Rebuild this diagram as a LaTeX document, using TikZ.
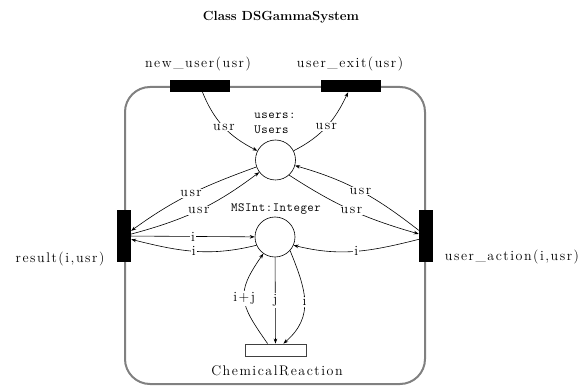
\documentclass[tikz,border=0pt]{standalone}
\usepackage{fontspec}
\setmainfont{lmroman12-regular.otf}[LetterSpace=11]
\newfontfamily\titlefont{lmroman12-bold.otf}
\newfontfamily\monolabfont{lmmono12-regular.otf}[LetterSpace=4]
\usetikzlibrary{arrows.meta}
\begin{document}
\begin{tikzpicture}[x=1pt,y=1pt,
  txt/.style={font=\fontsize{14}{16}\selectfont, inner sep=0pt},
  monotxt/.style={font=\monolabfont\fontsize{12.5}{15}\selectfont, inner sep=0pt},
  lbl/.style={txt, fill=white, inner sep=1.2pt},
  arr/.style={-{Stealth[length=5pt,width=3.6pt]}, line width=0.6pt},
  barbox/.style={fill=black, draw=none, inner sep=0pt},
  hbar/.style={barbox, minimum width=60pt, minimum height=12pt},
  vbar/.style={barbox, minimum width=14pt, minimum height=52pt},
  place/.style={circle, draw, line width=0.6pt, minimum size=40pt, inner sep=0pt},
  trans/.style={draw=black!75, fill=white, line width=0.8pt, minimum width=61pt, minimum height=12pt, inner sep=0pt},
  frame/.style={draw=black!50, line width=2pt, rounded corners=25pt}]
\useasboundingbox (0,0) rectangle (587,386);

\draw[frame] (125,2) rectangle (425,299);

\node[hbar] (nu) at (200,300) {};
\node[hbar] (ue) at (351,300) {};
\node[vbar] (rb) at (124,150) {};
\node[vbar] (ua) at (426,150) {};
\node[place] (users) at (275.5,226) {};
\node[place] (ms) at (275,149) {};
\node[trans] (cr) at (275.5,36) {};

\node[txt, font=\titlefont\fontsize{13.2}{15}\selectfont] (title) at (281,369) {Class DSGammaSystem};
\node[txt] (nul) at (198,322) {new\_user(usr)};
\node[txt] (uel) at (350,322) {user\_exit(usr)};
\node[txt] (rbl) at (60,127) {result(i,usr)};
\node[txt] (ual) at (512,129) {user\_action(i,usr)};
\node[monotxt, align=left] (usersl) at (275,262.5) {users:\\Users};
\node[monotxt] (msl) at (276,177) {MSInt:Integer};
\node[txt] (crl) at (277,15) {ChemicalReaction};

\draw[arr] (nu) to[out=-68,in=153] node[lbl]{usr} (users);
\draw[arr] (users) to[out=27,in=-115] node[lbl]{usr} (ue);
\draw[arr] (users) to[out=200,in=36] node[lbl]{usr} (rb);
\draw[arr] (rb) to[out=15,in=217] node[lbl]{usr} (users);
\draw[arr] (rb) -- node[lbl]{i} (ms);
\draw[arr] (ms.204) to[out=194,in=-14] node[lbl]{i} (rb.-25);
\draw[arr] (users.-48) to[out=-33,in=164] node[lbl]{usr} (ua);
\draw[arr] (ua) to[out=142,in=-16] node[lbl]{usr} (users);
\draw[arr] (ua.205) to[out=194,in=-14] node[lbl]{i} (ms.-24);
\draw[arr] (ms) -- node[lbl]{j} (cr);
\draw[arr] (cr.141) to[out=125,in=235,looseness=1.4] node[lbl]{i+j} (ms);
\draw[arr] (ms.-42) to[out=-68,in=41,looseness=1.15] node[lbl]{i} (cr.39);
\end{tikzpicture}
\end{document}
